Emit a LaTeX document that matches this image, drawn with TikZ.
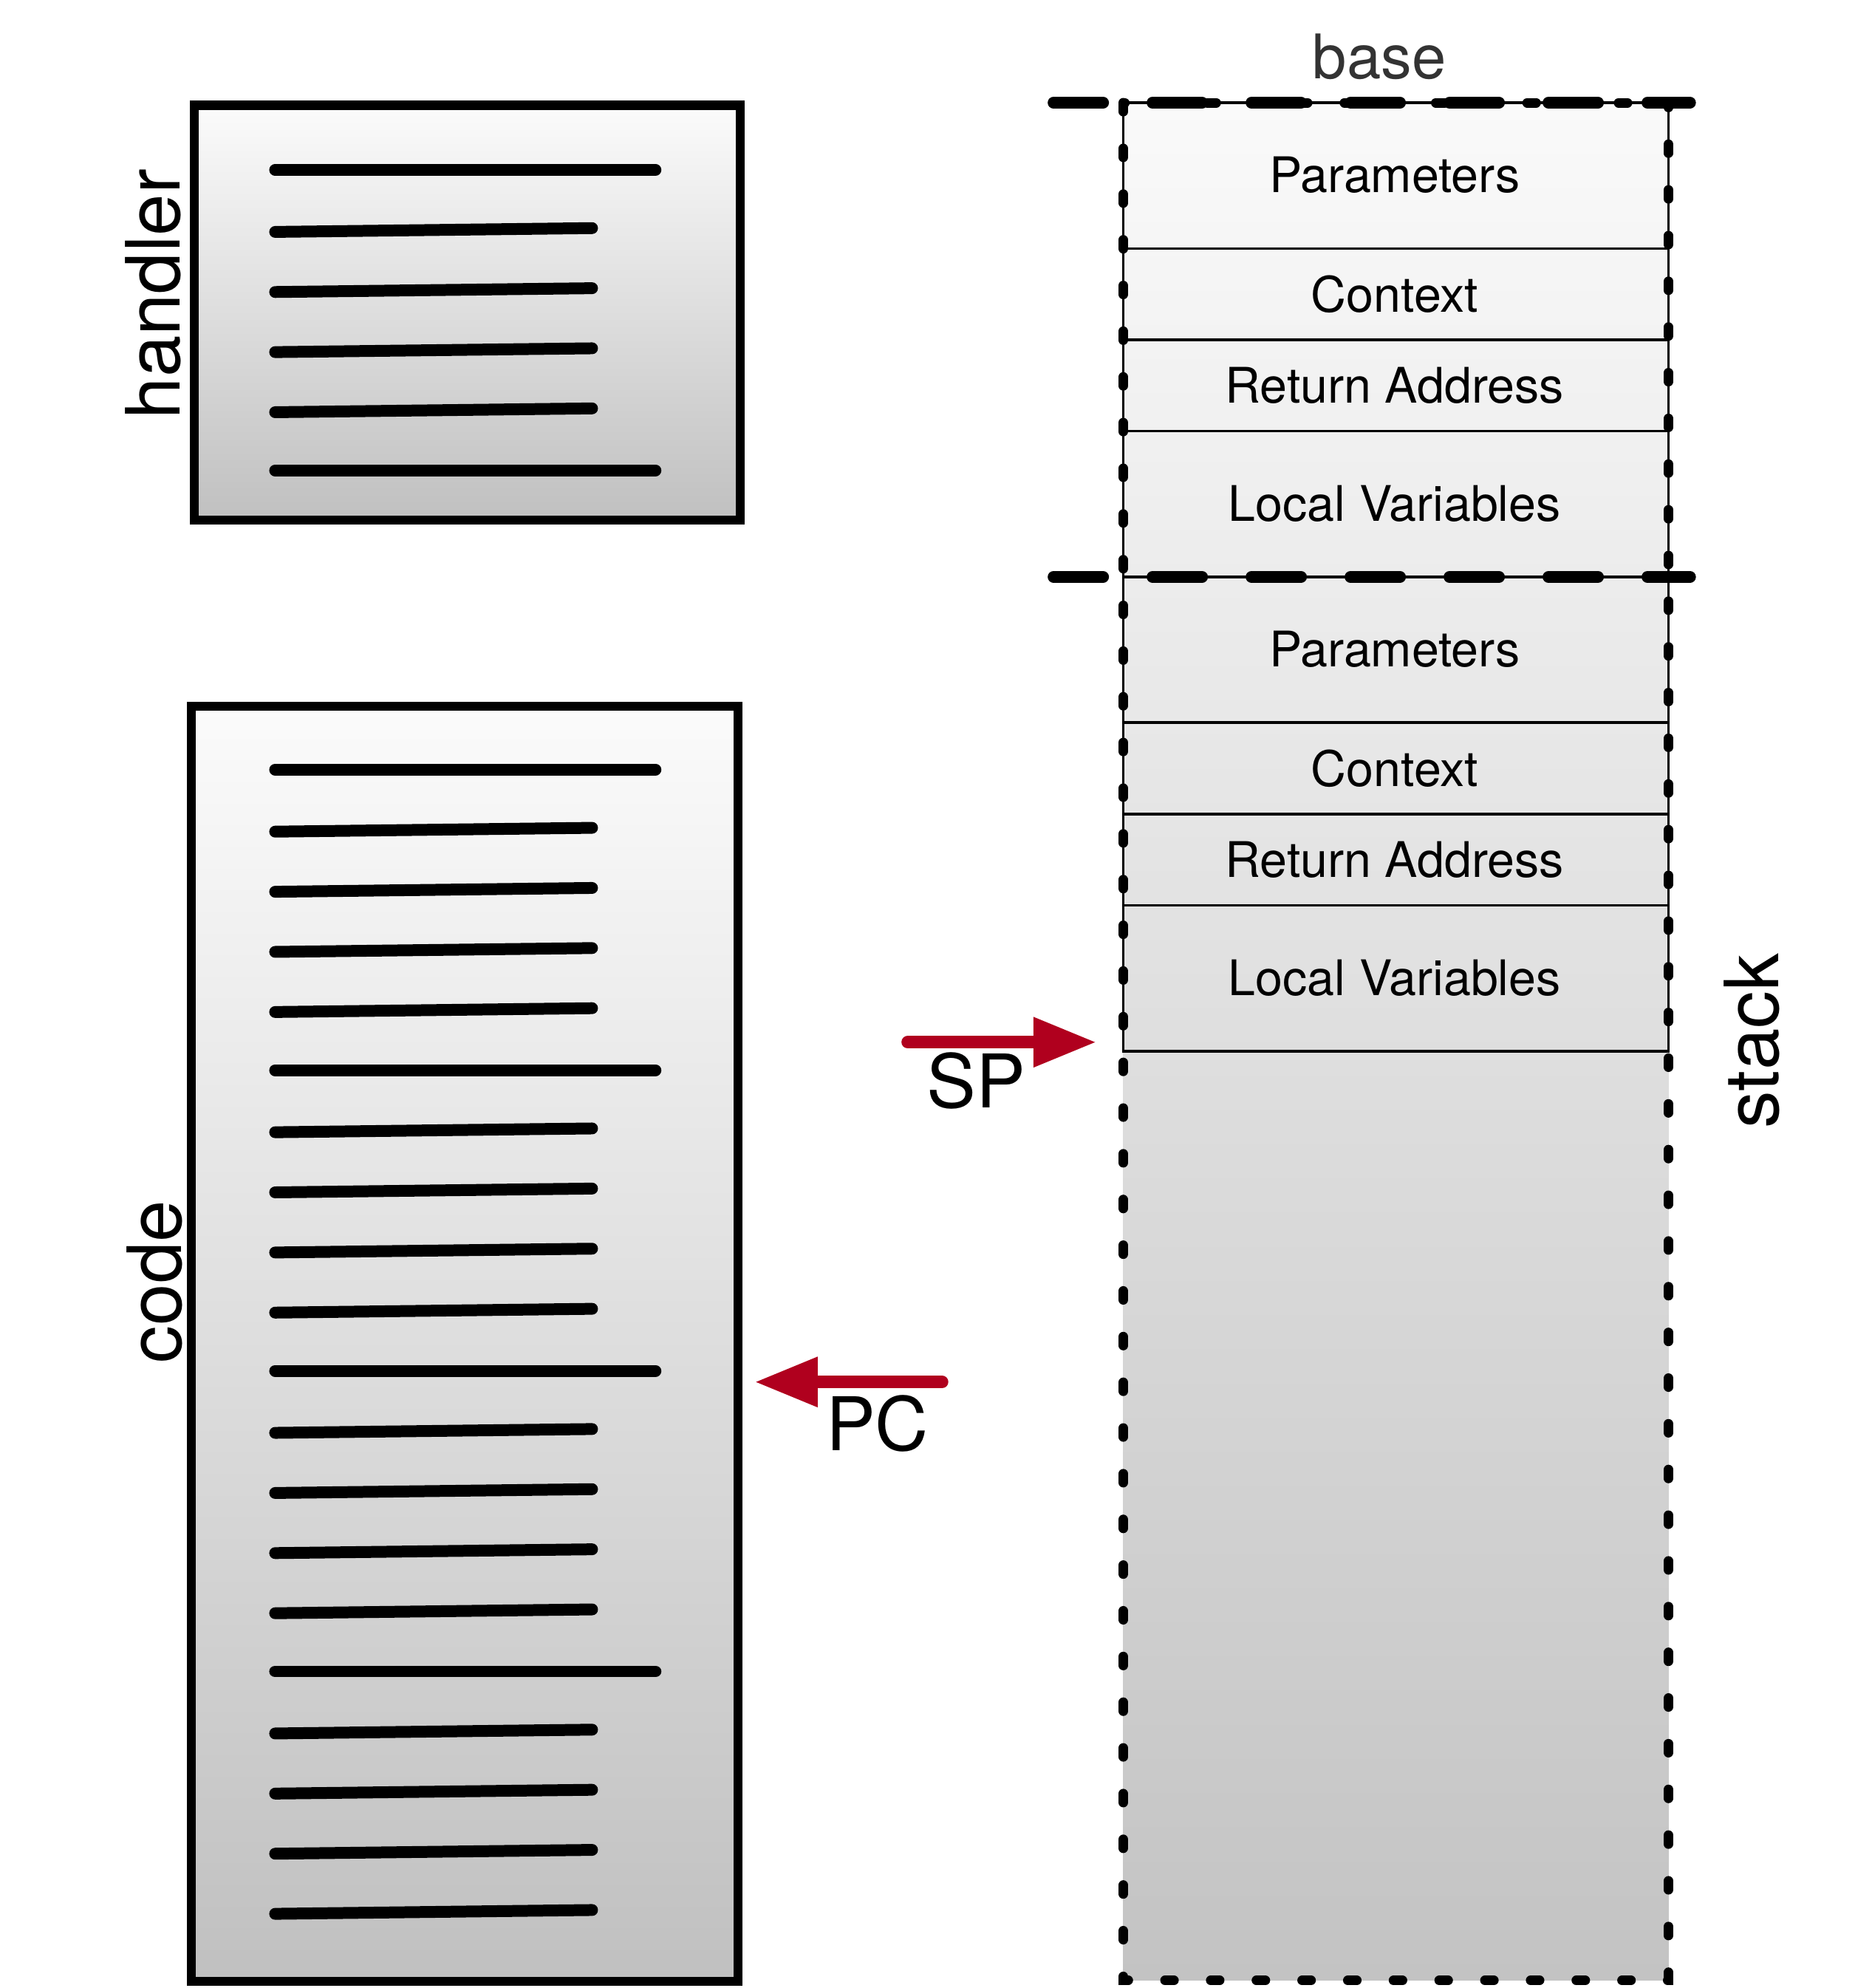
\documentclass[tikz,border=0pt]{standalone}
\usepackage{fontspec}
\setmainfont{TeX Gyre Heros}
\usetikzlibrary{arrows.meta}
\definecolor{gtop}{RGB}{251,251,251}
\definecolor{gbot}{RGB}{192,192,192}
\definecolor{stop}{RGB}{250,250,250}
\definecolor{sbot}{RGB}{195,195,195}
\definecolor{sred}{RGB}{176,0,30}
\definecolor{basegray}{RGB}{51,51,51}
\begin{document}
\begin{tikzpicture}[x=0.01cm,y=-0.01cm,
  box/.style={draw=black, line width=2pt, top color=gtop, bottom color=gbot},
  codeline/.style={line width=2.65pt, line cap=round},
  biglabel/.style={font=\fontsize{16.8}{20}\selectfont, rotate=90, anchor=base, inner sep=0pt},
  celltext/.style={font=\fontsize{11}{13}\selectfont, anchor=base, inner sep=0pt},
  cellbox/.style={line width=0.6pt},
  stackborder/.style={line width=2.16pt, line cap=round, dash pattern=on 2pt off 8.25pt},
  framesep/.style={line width=2.65pt, line cap=round, dash pattern=on 11.1pt off 11.1pt},
  ptr/.style={sred, line width=2.85pt, line cap=round, -{Triangle[length=14.2pt,width=10.5pt]}},
  ptrlabel/.style={font=\fontsize{16.6}{20}\selectfont, anchor=base, inner sep=0pt},
]
\useasboundingbox (0,0) rectangle (1476,1568);

% handler box
\path[box] (153,83) rectangle (584,410);
\foreach \i in {0,...,5}{
  \pgfmathsetmacro\yy{134+47.4*\i}
  \ifnum\i=0 \draw[codeline] (217,\yy) -- (517,\yy);
  \else\ifnum\i=5 \draw[codeline] (217,\yy) -- (517,\yy);
  \else \draw[codeline] (217,\yy+1.5) -- (467,\yy-1.5);
  \fi\fi
}
\node[biglabel] (handler) at (142,232) {handler};

% code box
\path[box] (151,557) rectangle (582,1563);
\foreach \i in {0,...,19}{
  \pgfmathsetmacro\yy{607+47.42*\i}
  \pgfmathtruncatemacro\m{mod(\i,5)}
  \ifnum\m=0 \draw[codeline] (217,\yy) -- (517,\yy);
  \else \draw[codeline] (217,\yy+1.5) -- (467,\yy-1.5);
  \fi
}
\node[biglabel] (code) at (143,1011) {code};

% stack
\path[top color=stop, bottom color=sbot] (886,81) rectangle (1316,1562);
\foreach \a/\b in {81/196,196/268,268/340,340/455,455/570,570/642,642/714,714/829}{
  \draw[cellbox] (886,\a) rectangle (1316,\b);
}
\node[celltext] (par1) at (1100,152) {Parameters};
\node[celltext] (ctx1) at (1100,246) {Context};
\node[celltext] (ret1) at (1100,318) {Return Address};
\node[celltext] (loc1) at (1100,411) {Local Variables};
\node[celltext] (par2) at (1100,526) {Parameters};
\node[celltext] (ctx2) at (1100,620) {Context};
\node[celltext] (ret2) at (1100,692) {Return Address};
\node[celltext] (loc2) at (1100,785) {Local Variables};

\draw[stackborder] (886,81) rectangle (1316,1562);
\draw[framesep] (831,81) -- (1333,81);
\draw[framesep] (831,455) -- (1333,455);

\node[font=\fontsize{13.8}{16}\selectfont, text=basegray, anchor=base, inner sep=0pt] (base) at (1088,62) {base};
\node[biglabel] (stack) at (1403,821) {stack};

% pointers
\coordinate (spfrom) at (716,822);
\coordinate (spto) at (865,822);
\draw[ptr] (spfrom) -- (spto);
\node[ptrlabel] (sp) at (770,874) {SP};

\coordinate (pcfrom) at (743,1090);
\coordinate (pcto) at (595,1090);
\draw[ptr] (pcfrom) -- (pcto);
\node[ptrlabel] (pc) at (692,1144) {PC};
\end{tikzpicture}
\end{document}
